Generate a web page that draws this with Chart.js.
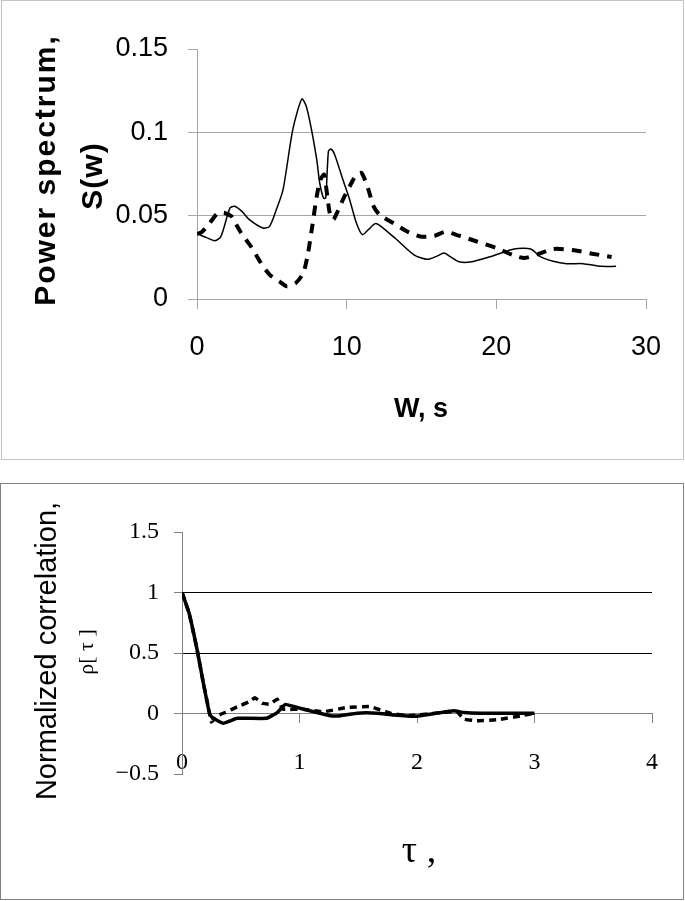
<!DOCTYPE html>
<html>
<head>
<meta charset="utf-8">
<script src="https://cdn.jsdelivr.net/npm/chart.js@4"></script>
<style>
body { margin: 0; background: #fff; width: 685px; height: 901px; position: relative; overflow: hidden; }
.panel { position: absolute; box-sizing: border-box; }
#p1 { left: 1px; top: 0; width: 683px; height: 460px; border: 1px solid #c4c4c4; }
#p2 { left: 0; top: 483px; width: 684px; height: 417px; border: 1px solid #808080; }
canvas { position: absolute; left: 0; }
#c1 { top: 0; }
#c2 { top: 483px; }
</style>
</head>
<body>
<div class="panel" id="p1"></div>
<div class="panel" id="p2"></div>
<canvas id="c1" width="685" height="460"></canvas>
<canvas id="c2" width="685" height="418"></canvas>
<script>
// Power spectrum - solid curve
const specSolidW = [0, 0.2, 0.6, 1.2, 1.6, 2.2, 2.5, 3.0, 3.5, 4.4, 4.85, 5.3, 5.75, 6.4, 7.0, 7.3, 7.65, 8.0, 8.2, 8.45, 8.6, 8.78, 8.95, 9.2, 9.75, 10.2, 10.65, 11.05, 11.45, 11.9, 12.2, 13.3, 14.5, 15.4, 16.0, 16.5, 16.9, 17.5, 18.25, 19.8, 21.2, 22.3, 22.9, 23.8, 24.7, 25.8, 27.0, 28.0];
const specSolidS = [0.040, 0.0385, 0.037, 0.035, 0.0376, 0.0545, 0.0556, 0.0526, 0.0476, 0.0426, 0.0436, 0.0536, 0.0656, 0.1016, 0.120, 0.1156, 0.1016, 0.0836, 0.0696, 0.0606, 0.0606, 0.0886, 0.090, 0.0866, 0.0716, 0.0596, 0.0456, 0.0386, 0.0416, 0.0452, 0.0442, 0.036, 0.0265, 0.0238, 0.0256, 0.0276, 0.0256, 0.0224, 0.0222, 0.026, 0.030, 0.030, 0.0256, 0.0226, 0.0212, 0.0212, 0.0196, 0.0196];

// Power spectrum - dashed curve
const specDashW = [0, 0.3, 0.85, 1.4, 1.85, 2.3, 2.5, 2.95, 3.6, 4.2, 4.85, 5.5, 6.0, 6.6, 7.1, 7.4, 7.7, 8.0, 8.25, 8.5, 8.65, 8.87, 9.1, 9.35, 9.75, 10.2, 10.65, 11.0, 11.45, 11.8, 12.2, 13.1, 14.15, 15.0, 15.9, 16.6, 17.5, 18.6, 20.0, 21.2, 21.9, 22.7, 23.8, 25.2, 26.4, 27.7];
const specDashS = [0.039, 0.040, 0.0456, 0.0516, 0.0516, 0.0496, 0.0466, 0.0396, 0.0316, 0.0226, 0.0146, 0.0106, 0.0076, 0.0096, 0.0156, 0.0266, 0.0436, 0.0616, 0.0716, 0.0746, 0.0656, 0.0516, 0.0476, 0.0516, 0.0596, 0.0676, 0.0746, 0.0756, 0.0656, 0.0556, 0.0506, 0.0456, 0.040, 0.0374, 0.038, 0.0403, 0.038, 0.0348, 0.0306, 0.026, 0.0246, 0.0266, 0.030, 0.0292, 0.0272, 0.0252];

// Normalized correlation - solid curve
const corrSolidT = [0, 0.06, 0.13, 0.18, 0.235, 0.26, 0.35, 0.47, 0.72, 0.81, 0.88, 0.98, 1.12, 1.26, 1.35, 1.49, 1.66, 1.8, 2.0, 2.17, 2.31, 2.4, 2.54, 3.0];
const corrSolidR = [1.0, 0.83, 0.52, 0.26, -0.005, -0.035, -0.08, -0.04, -0.04, 0.008, 0.075, 0.05, 0.014, -0.018, -0.018, 0.003, 0.003, -0.012, -0.022, 0.003, 0.022, 0.008, 0.003, 0.003];

// Normalized correlation - dashed curve
const corrDashT = [0, 0.06, 0.13, 0.18, 0.235, 0.25, 0.3, 0.37, 0.47, 0.57, 0.62, 0.68, 0.75, 0.81, 0.86, 1.03, 1.2, 1.4, 1.6, 1.77, 1.94, 2.2, 2.34, 2.4, 2.51, 2.68, 2.88, 3.0];
const corrDashR = [1.0, 0.83, 0.52, 0.26, 0.0, -0.07, -0.02, 0.01, 0.055, 0.096, 0.13, 0.085, 0.077, 0.118, 0.036, 0.036, 0.014, 0.049, 0.058, 0.003, -0.019, 0.008, 0.014, -0.047, -0.06, -0.052, -0.02, 0.003];

// Tick ranges [min, max, step]
const specTicksX = [0, 30, 10];
const specTicksY = [0, 0.15, 0.05];
const corrTicksX = [0, 4, 1];
const corrTicksY = [-0.5, 1.5, 0.5];

const pts = (xs, ys) => xs.map((x, i) => ({ x: x, y: ys[i] }));

// disegna i titoli degli assi (ruotati, con spaziatura)
const axisTitles = {
    id: 'axisTitles',
    afterDraw(chart, args, opts) {
        const ctx = chart.ctx;
        (opts.items || []).forEach(t => {
            ctx.save();
            ctx.font = t.font;
            ctx.fillStyle = '#000';
            ctx.textAlign = 'center';
            ctx.textBaseline = 'middle';
            ctx.letterSpacing = (t.spacing || 0) + 'px';
            ctx.translate(t.x, t.y);
            if (t.rotate) ctx.rotate(-Math.PI / 2);
            ctx.fillText(t.text, 0, 0);
            ctx.restore();
        });
    }
};

const sans = 'Liberation Sans, Arial, sans-serif';
const serif = 'Liberation Serif, Times New Roman, serif';
const gray = '#a6a6a6';
const none = 'rgba(0,0,0,0)';

// Chart 1 - Power spectrum
new Chart(document.getElementById('c1'), {
    type: 'line',
    data: {
        datasets: [
            { data: pts(specSolidW, specSolidS), borderColor: '#000', borderWidth: 1.5, pointRadius: 0, tension: 0.25, fill: false },
            { data: pts(specDashW, specDashS), borderColor: '#000', borderWidth: 4, borderDash: [10, 8], pointRadius: 0, tension: 0.25, fill: false }
        ]
    },
    options: {
        responsive: false,
        animation: false,
        layout: { padding: { left: 0, top: 49, right: 39, bottom: 0 } },
        plugins: {
            legend: { display: false },
            tooltip: { enabled: false },
            axisTitles: {
                items: [
                    { text: 'Power spectrum,', x: 47, y: 170, rotate: true, font: 'bold 30px ' + sans, spacing: 2 },
                    { text: 'S(w)', x: 94, y: 176, rotate: true, font: 'bold 30px ' + sans, spacing: 1 },
                    { text: 'W, s', x: 421, y: 410, font: 'bold 27px ' + sans }
                ]
            }
        },
        scales: {
            x: {
                type: 'linear', min: specTicksX[0], max: specTicksX[1],
                ticks: { stepSize: specTicksX[2], padding: 22, maxRotation: 0, color: '#000', font: { family: sans, size: 27 } },
                grid: { drawOnChartArea: false, tickLength: 10, tickColor: gray },
                border: { color: gray },
                afterFit: s => { s.height = 161; }
            },
            y: {
                min: specTicksY[0], max: specTicksY[1],
                ticks: { stepSize: specTicksY[2], padding: 20, color: '#000', font: { family: sans, size: 27 },
                    callback: v => String(+v.toFixed(2)) },
                grid: {
                    color: c => (c.tick && c.tick.value > 0.01 && c.tick.value < 0.12) ? gray : none,
                    tickColor: gray, tickLength: 9
                },
                border: { color: gray },
                afterFit: s => { s.width = 197; }
            }
        }
    },
    plugins: [axisTitles]
});

// Chart 2 - Normalized correlation
new Chart(document.getElementById('c2'), {
    type: 'line',
    data: {
        datasets: [
            { data: pts(corrSolidT, corrSolidR), borderColor: '#000', borderWidth: 3.5, pointRadius: 0, tension: 0.1, fill: false },
            { data: pts(corrDashT, corrDashR), borderColor: '#000', borderWidth: 3.5, borderDash: [7, 5], pointRadius: 0, tension: 0.1, fill: false }
        ]
    },
    options: {
        responsive: false,
        animation: false,
        layout: { padding: { left: 0, top: 49, right: 33, bottom: 127 } },
        plugins: {
            legend: { display: false },
            tooltip: { enabled: false },
            axisTitles: {
                items: [
                    { text: 'Normalized correlation,', x: 48, y: 168, rotate: true, font: '29px ' + sans },
                    { text: 'ρ[ τ ]', x: 87, y: 169, rotate: true, font: '22px ' + serif },
                    { text: 'τ ,', x: 419, y: 369, font: '38px ' + serif }
                ]
            }
        },
        scales: {
            x: {
                type: 'linear', min: corrTicksX[0], max: corrTicksX[1], position: { y: 0 },
                ticks: { stepSize: corrTicksX[2], padding: 26, maxRotation: 0, color: '#000', font: { family: serif, size: 24 } },
                grid: { drawOnChartArea: false, tickLength: 9, tickColor: '#808080' },
                border: { color: '#808080' }
            },
            y: {
                min: corrTicksY[0], max: corrTicksY[1],
                ticks: { stepSize: corrTicksY[2], padding: 15, color: '#000', font: { family: serif, size: 24 },
                    callback: v => v < 0 ? '\u2212' + Math.abs(v) : String(v) },
                grid: {
                    color: c => (c.tick && (c.tick.value === 0.5 || c.tick.value === 1)) ? '#000' : none,
                    tickColor: '#808080', tickLength: 8
                },
                border: { color: '#808080' },
                afterFit: s => { s.width = 182; }
            }
        }
    },
    plugins: [axisTitles]
});
</script>
</body>
</html>
